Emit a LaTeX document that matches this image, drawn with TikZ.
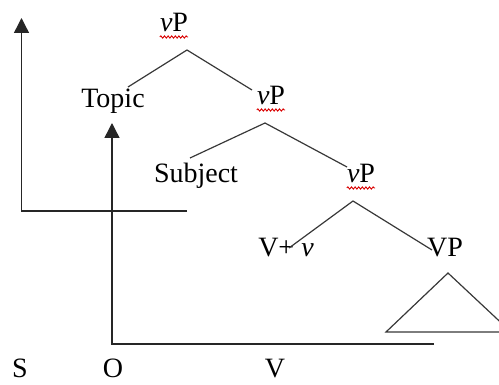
\documentclass[tikz,border=0pt]{standalone}
\usepackage{fontspec}
\setmainfont{Liberation Serif}
\usetikzlibrary{arrows.meta,decorations.pathmorphing}
\begin{document}
\begin{tikzpicture}[x=1pt,y=-1pt,
  lbl/.style={anchor=base, inner sep=0pt, font=\fontsize{28}{30}\selectfont},
  branch/.style={draw=black!78, line width=1.2pt},
  movearrow/.style={draw=black!85, line width=1.4pt, -{Triangle[width=15pt,length=15pt]}},
  squiggle/.style={draw=red!85!black, line width=0.9pt, decorate, decoration={snake, amplitude=1.1pt, segment length=3.6pt}}]
\clip (0,0) rectangle (499,385);
\useasboundingbox (0,0) rectangle (499,385);
% labels
\node[lbl] (vp1) at (174,32) {\textit{v}P};
\node[lbl] (topic) at (113,108) {Topic};
\node[lbl] (vp2) at (271,105) {\textit{v}P};
\node[lbl] (subj) at (196,183) {Subject};
\node[lbl] (vp3) at (361,183) {\textit{v}P};
\node[lbl] (vv) at (286,257) {V+ \textit{v}};
\node[lbl] (vpbig) at (445,257) {VP};
\node[lbl, text depth=0pt] (S) at (20,378) {S};
\node[lbl, text depth=0pt] (O) at (113,378) {O};
\node[lbl, text depth=0pt] (V) at (275,378) {V};
% squiggles
\draw[squiggle] ([yshift=-5pt]vp1.base west) -- ([yshift=-5pt]vp1.base east);
\draw[squiggle] ([yshift=-5pt]vp2.base west) -- ([yshift=-5pt]vp2.base east);
\draw[squiggle] ([yshift=-5pt]vp3.base west) -- ([yshift=-5pt]vp3.base east);
% branch points
\coordinate (a1) at (187,50);
\coordinate (t1) at (128,87);
\coordinate (r1) at (252,90);
\coordinate (a2) at (265,123);
\coordinate (l2) at (190,158);
\coordinate (r2) at (347,167);
\coordinate (a3) at (353,201);
\coordinate (l3) at (289,248);
\coordinate (r3) at (432,250);
\draw[branch] (t1) -- (a1) -- (r1);
\draw[branch] (l2) -- (a2) -- (r2);
\draw[branch] (l3) -- (a3) -- (r3);
% triangle
\coordinate (ta) at (448,273);
\coordinate (tl) at (386,332);
\coordinate (tr) at (511,332);
\draw[branch] (tl) -- (ta) -- (tr) -- cycle;
% movement lines
\coordinate (sEnd) at (187,211);
\coordinate (sCorner) at (21.5,211);
\coordinate (sTip) at (21.5,18);
\draw[movearrow] (sEnd) -- (sCorner) -- (sTip);
\coordinate (oEnd) at (434,344);
\coordinate (oCorner) at (112,344);
\coordinate (oTip) at (112,123);
\draw[movearrow] (oEnd) -- (oCorner) -- (oTip);
\end{tikzpicture}
\end{document}
